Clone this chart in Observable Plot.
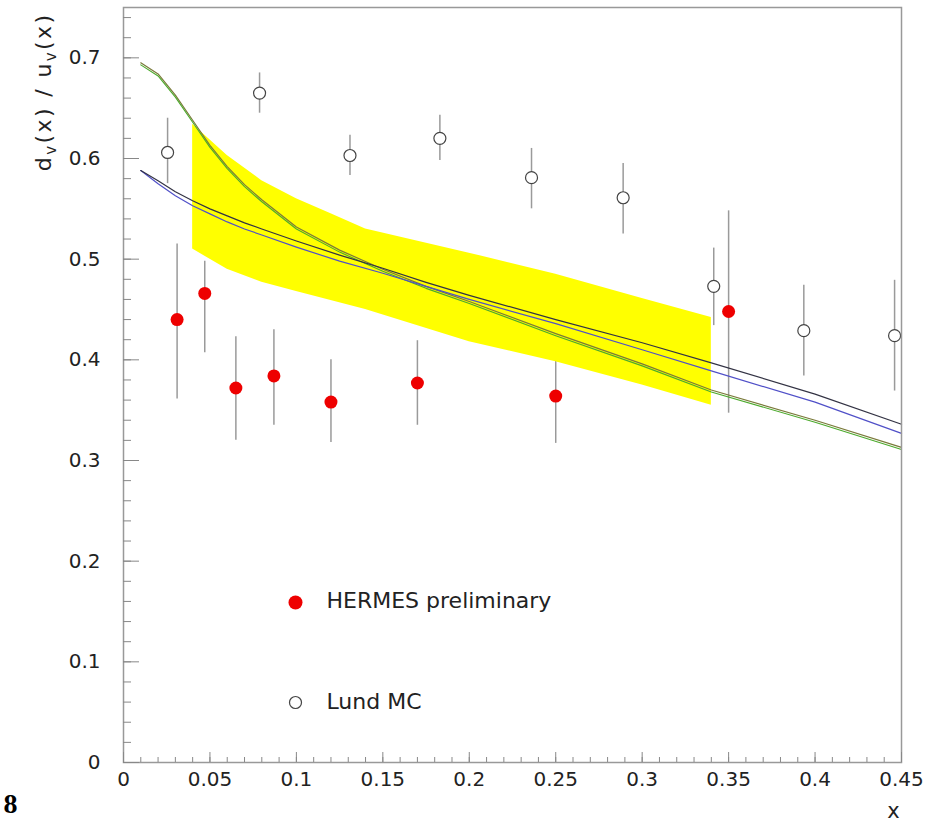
<!DOCTYPE html>
<html><head><meta charset="utf-8">
<script src="https://cdn.jsdelivr.net/npm/d3@7"></script>
<script src="https://cdn.jsdelivr.net/npm/@observablehq/plot@0.6"></script>
<style>body{margin:0;background:#fff}</style>
</head><body><div id="chart"></div>
<script>
// HERMES preliminary (filled red points)
const hermesX  = [0.031, 0.047, 0.065, 0.087, 0.120, 0.170, 0.250, 0.350];
const hermesY  = [0.440, 0.466, 0.372, 0.384, 0.358, 0.377, 0.364, 0.448];
const hermesLo = [0.361, 0.407, 0.320, 0.335, 0.318, 0.335, 0.317, 0.347];
const hermesHi = [0.515, 0.498, 0.423, 0.430, 0.400, 0.419, 0.401, 0.548];
// Lund MC (open circles)
const lundX  = [0.0255, 0.0787, 0.131, 0.183, 0.236, 0.289, 0.3414, 0.3935, 0.446];
const lundY  = [0.606, 0.665, 0.603, 0.620, 0.581, 0.561, 0.473, 0.429, 0.424];
const lundLo = [0.575, 0.645, 0.583, 0.598, 0.550, 0.525, 0.434, 0.384, 0.369];
const lundHi = [0.640, 0.685, 0.623, 0.643, 0.610, 0.595, 0.511, 0.474, 0.479];
// yellow band
const bandX      = [0.04, 0.06, 0.08, 0.10, 0.12, 0.14, 0.20, 0.25, 0.30, 0.34];
const bandTop    = [0.634, 0.603, 0.578, 0.560, 0.545, 0.530, 0.506, 0.485, 0.461, 0.442];
const bandBottom = [0.510, 0.490, 0.477, 0.468, 0.459, 0.450, 0.418, 0.398, 0.375, 0.355];
// curves
const curveX     = [0.01, 0.02, 0.03, 0.04, 0.05, 0.06, 0.07, 0.08, 0.10, 0.125, 0.15, 0.175, 0.20, 0.25, 0.30, 0.34, 0.40, 0.45];
const curveBlack = [0.588, 0.578, 0.567, 0.558, 0.550, 0.543, 0.536, 0.530, 0.518, 0.504, 0.491, 0.477, 0.464, 0.440, 0.417, 0.397, 0.366, 0.336];
const curveBlue  = [0.588, 0.575, 0.563, 0.553, 0.545, 0.537, 0.530, 0.524, 0.512, 0.498, 0.486, 0.473, 0.460, 0.436, 0.410, 0.389, 0.358, 0.327];
const curveGreen = [0.693, 0.682, 0.661, 0.636, 0.611, 0.590, 0.572, 0.557, 0.530, 0.507, 0.488, 0.471, 0.456, 0.424, 0.394, 0.368, 0.338, 0.311];
const curveOlive = [0.695, 0.684, 0.663, 0.638, 0.613, 0.592, 0.574, 0.559, 0.532, 0.509, 0.490, 0.473, 0.458, 0.426, 0.396, 0.370, 0.340, 0.313];
// ticks and labels
const xMajor = [0, 0.05, 0.1, 0.15, 0.2, 0.25, 0.3, 0.35, 0.4, 0.45];
const xMajorLabels = ["0", "0.05", "0.1", "0.15", "0.2", "0.25", "0.3", "0.35", "0.4", "0.45"];
const xMinor = d3.range(0, 46).map(i => i / 100);
const yMajor = [0, 0.1, 0.2, 0.3, 0.4, 0.5, 0.6, 0.7];
const yMajorLabels = ["0", "0.1", "0.2", "0.3", "0.4", "0.5", "0.6", "0.7"];
const yMinor = d3.range(0, 38).map(i => i * 0.02);
const legendLabels = ["HERMES preliminary", "Lund MC"];
const xTitle = "x";
const yTitleParts = [["d", false], ["v", true], ["(x) / u", false], ["v", true], ["(x)", false]];
const cornerMark = "8";

const W = 927, H = 826, mL = 123, mR = 26, mT = 7, mB = 64;
const plotW = W - mL - mR, plotH = H - mT - mB;

const hermes = hermesX.map((x, i) => ({x, y: hermesY[i], lo: hermesLo[i], hi: hermesHi[i]}));
const lund = lundX.map((x, i) => ({x, y: lundY[i], lo: lundLo[i], hi: lundHi[i]}));
const band = bandX.map((x, i) => ({x, top: bandTop[i], bottom: bandBottom[i]}));
const curves = curveX.map((x, i) => ({x, black: curveBlack[i], blue: curveBlue[i], green: curveGreen[i], olive: curveOlive[i]}));
const yTitle = yTitleParts.map(p => p[0]).join("");

const chart = Plot.plot({
  width: W, height: H,
  marginLeft: mL, marginRight: mR, marginTop: mT, marginBottom: mB,
  style: {fontFamily: "DejaVu Sans", fontSize: "20px", color: "#222", background: "#fff"},
  x: {domain: [0, 0.45]},
  y: {domain: [0, 0.75]},
  marks: [
    Plot.ruleX(hermes, {x: "x", y1: "lo", y2: "hi", stroke: "#9a9a9a", strokeWidth: 1.5}),
    Plot.areaY(band, {x: "x", y1: "bottom", y2: "top", fill: "#ffff00", curve: "linear"}),
    Plot.ruleX(lund, {x: "x", y1: "lo", y2: "hi", stroke: "#9a9a9a", strokeWidth: 1.5}),
    Plot.lineY(curves, {x: "x", y: "olive", stroke: "#7a7a3a", strokeWidth: 1.2}),
    Plot.lineY(curves, {x: "x", y: "green", stroke: "#4caa2c", strokeWidth: 1.1}),
    Plot.lineY(curves, {x: "x", y: "blue", stroke: "#5050c8", strokeWidth: 1.2}),
    Plot.lineY(curves, {x: "x", y: "black", stroke: "#333344", strokeWidth: 1.2}),
    Plot.dot(hermes, {x: "x", y: "y", r: 6.5, fill: "#ee0000", stroke: "none"}),
    Plot.dot(lund, {x: "x", y: "y", r: 6, fill: "#fff", stroke: "#444", strokeWidth: 1.2}),
    Plot.frame({stroke: "#999", strokeWidth: 1.5}),
    Plot.tickX(xMinor, {x: d => d, stroke: "#888", insetTop: plotH - 5}),
    Plot.tickX(xMajor, {x: d => d, stroke: "#888", insetTop: plotH - 10}),
    Plot.tickY(yMinor, {y: d => d, stroke: "#888", insetRight: plotW - 8}),
    Plot.tickY(yMajor, {y: d => d, stroke: "#888", insetRight: plotW - 16}),
    Plot.axisX({ticks: xMajor, tickFormat: d => xMajorLabels[xMajor.indexOf(d)], tickSize: 0, tickPadding: 9, fontSize: 20, label: null}),
    Plot.axisY({ticks: yMajor, tickFormat: d => yMajorLabels[yMajor.indexOf(d)], tickSize: 0, tickPadding: 23, fontSize: 20, label: null}),
    // legend
    Plot.dot([legendLabels[0]], {frameAnchor: "bottom-left", dx: 172, dy: -160, r: 7, fill: "#ee0000", stroke: "none"}),
    Plot.dot([legendLabels[1]], {frameAnchor: "bottom-left", dx: 172, dy: -60, r: 6, fill: "#fff", stroke: "#444", strokeWidth: 1.2}),
    Plot.text([legendLabels[0]], {text: d => d, frameAnchor: "bottom-left", dx: 203, dy: -155, textAnchor: "start", fontSize: 22, fill: "#222"}),
    Plot.text([legendLabels[1]], {text: d => d, frameAnchor: "bottom-left", dx: 203, dy: -54, textAnchor: "start", fontSize: 22, fill: "#222"}),
    // axis titles
    Plot.text([xTitle], {text: d => d, frameAnchor: "bottom-right", dx: -8, dy: 55, textAnchor: "middle", fontSize: 21, fill: "#222"}),
    Plot.text([yTitle], {text: d => d, frameAnchor: "top-left", dx: -88, dy: 5, rotate: -90, textAnchor: "end", fontSize: 22, fill: "#222"}),
    Plot.text([cornerMark], {text: d => d, frameAnchor: "bottom-left", dx: -120, dy: 50, textAnchor: "start", fontSize: 28, fontWeight: "bold", fontFamily: "Liberation Serif", fill: "#000"})
  ]
});

// subscripts in the y title
chart.querySelectorAll("text").forEach(t => {
  if (t.textContent === yTitle) {
    t.textContent = "";
    t.setAttribute("letter-spacing", "2.4");
    let shifted = false;
    yTitleParts.forEach(([s, sub]) => {
      const ts = document.createElementNS("http://www.w3.org/2000/svg", "tspan");
      ts.textContent = s;
      if (sub) { ts.setAttribute("dy", "5"); ts.setAttribute("font-size", "15"); shifted = true; }
      else if (shifted) { ts.setAttribute("dy", "-5"); shifted = false; }
      t.appendChild(ts);
    });
  }
});
document.getElementById("chart").appendChild(chart);
</script>
</body></html>
